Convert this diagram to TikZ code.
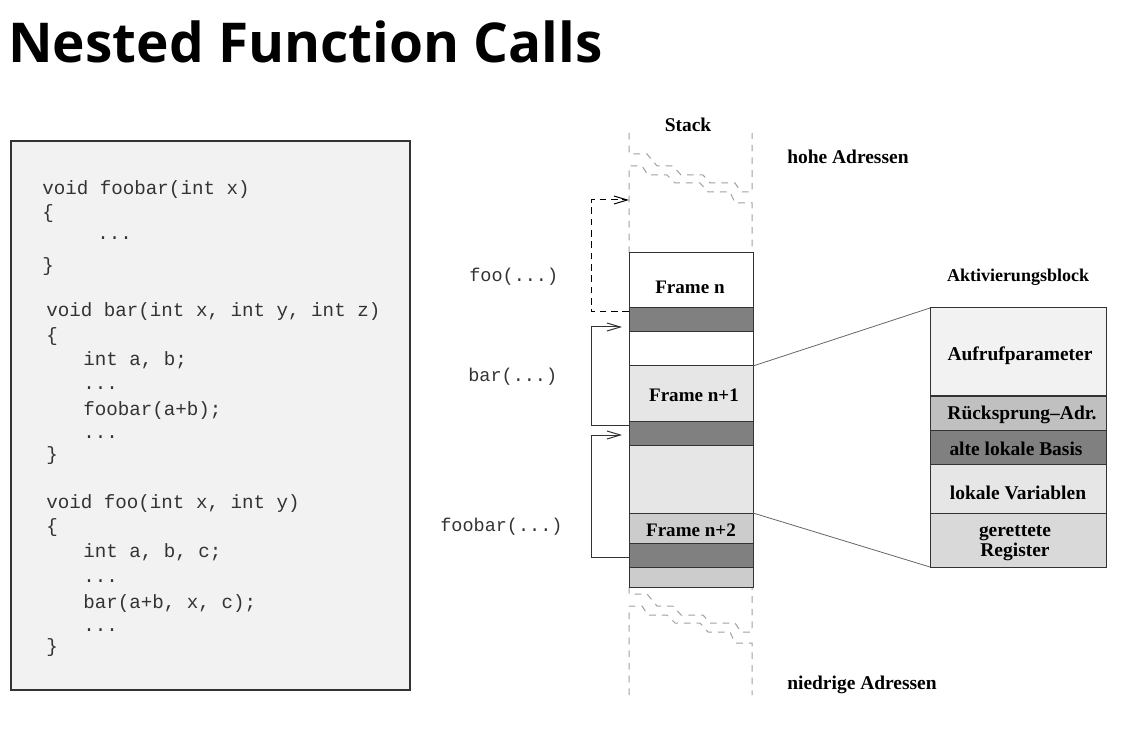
\documentclass[tikz,border=0pt]{standalone}
\usepackage{fontspec}
\setmainfont{Liberation Serif}
\setmonofont{Liberation Mono}
\newfontfamily\titlefont{Open Sans}
\usetikzlibrary{arrows.meta,calc}

\definecolor{codebg}{HTML}{F2F2F2}
\definecolor{edge}{HTML}{333333}
\definecolor{darkband}{HTML}{808080}
\definecolor{lightband}{HTML}{E6E6E6}
\definecolor{midband}{HTML}{CCCCCC}
\definecolor{breakgray}{HTML}{A0A0A0}
\definecolor{codetext}{HTML}{333333}
\definecolor{aufruf}{HTML}{F2F2F2}
\definecolor{ruecksprung}{HTML}{C0C0C0}
\definecolor{gerettet}{HTML}{D9D9D9}

\begin{document}
\begin{tikzpicture}[x=0.75pt,y=-0.75pt,
  codeline/.style={font=\ttfamily\fontsize{14.4}{17}\selectfont, text=codetext, anchor=base west, inner sep=0pt},
  calllabel/.style={font=\ttfamily\fontsize{13.9}{16}\selectfont, text=codetext, anchor=west, inner sep=0pt},
  lbl/.style={font=\bfseries\fontsize{14.6}{17}\selectfont, inner sep=0pt},
  framelbl/.style={font=\bfseries\fontsize{14.3}{17}\selectfont, inner sep=0pt},
  seg/.style={draw=edge, line width=0.75pt, minimum width=93pt, inner sep=0pt, outer sep=0pt, anchor=north west},
  blk/.style={draw=edge, line width=0.75pt, minimum width=132pt, inner sep=0pt, outer sep=0pt, anchor=north west},
  brk/.style={draw=breakgray, line width=0.75pt, dash pattern=on 5pt off 4.5pt},
  callarrow/.style={draw=edge, line width=0.75pt, -{Straight Barb[length=10pt,width=6pt]}},
  zoomline/.style={draw=black!60, line width=0.6pt}
]
\useasboundingbox (0,0) rectangle (1123,730);

% title
\node[anchor=base west, inner sep=0pt, font=\titlefont\bfseries\fontsize{41.2}{50}\selectfont] (title) at (8,63) {Nested Function Calls};

% code box
\node[draw=edge, fill=codebg, line width=0.9pt, minimum width=299.25pt, minimum height=411.75pt, anchor=north west, inner sep=0pt, outer sep=0pt] (codebox) at (11,141) {};
\node[codeline] (c1) at (42,195) {void foobar(int x)};
\node[codeline] (c2) at (42,219) {\{};
\node[codeline] (c3) at (97,240) {...};
\node[codeline] (c4) at (42,272) {\}};
\node[codeline] (c5) at (46,317) {void bar(int x, int y, int z)};
\node[codeline] (c6) at (46,342) {\{};
\node[codeline] (c7) at (83,366) {int a, b;};
\node[codeline] (c8) at (83,389) {...};
\node[codeline] (c9) at (83,415) {foobar(a+b);};
\node[codeline] (c10) at (83,438) {...};
\node[codeline] (c11) at (46,460) {\}};
\node[codeline] (c12) at (46,508) {void foo(int x, int y)};
\node[codeline] (c13) at (46,532) {\{};
\node[codeline] (c14) at (83,557) {int a, b, c;};
\node[codeline] (c15) at (83,582) {...};
\node[codeline] (c16) at (83,608) {bar(a+b, x, c);};
\node[codeline] (c17) at (83,631) {...};
\node[codeline] (c18) at (46,652) {\}};

% stack break lines (top)
\draw[brk] (629,133)--(629,154)--(647,154)--(657,166)--(673,166)--(681,175)--(703,175)--(710,183)--(735,183)--(741,192)--(752,192)--(752,133);
\draw[brk] (629,253)--(629,166)--(642,166)--(648,175)--(667,175)--(675,183)--(700,183)--(708,192)--(730,192)--(735,203)--(752,203)--(752,253);
% stack break lines (bottom)
\begin{scope}[shift={(0,440)}]
\draw[brk] (629,147)--(629,154)--(647,154)--(657,166)--(673,166)--(681,175)--(703,175)--(710,183)--(735,183)--(741,192)--(752,192)--(752,147);
\draw[brk] (629,255)--(629,166)--(642,166)--(648,175)--(667,175)--(675,183)--(700,183)--(708,192)--(730,192)--(735,203)--(752,203)--(752,255);
\end{scope}

% stack segments
\node[seg, fill=white,      minimum height=41.25pt] (s1) at (629,253) {};
\node[seg, fill=darkband,   minimum height=18pt]    (s2) at (629,308) {};
\node[seg, fill=white,      minimum height=25.5pt]  (s3) at (629,332) {};
\node[seg, fill=lightband,  minimum height=41.25pt] (s4) at (629,366) {};
\node[seg, fill=darkband,   minimum height=18pt]    (s5) at (629,421) {};
\node[seg, fill=lightband,  minimum height=51pt]    (s6) at (629,445) {};
\node[seg, fill=midband,    minimum height=22.5pt]  (s7) at (629,513) {};
\node[seg, fill=darkband,   minimum height=18pt]    (s8) at (629,543) {};
\node[seg, fill=midband,    minimum height=15pt]    (s9) at (629,567) {};

\node[framelbl] (fn)  at (690,287) {Frame n};
\node[framelbl] (fn1) at (694,395) {Frame n+1};
\node[framelbl] (fn2) at (691,530) {Frame n+2};

\node[lbl] (stack) at (688,125) {Stack};
\node[lbl, anchor=west] (hohe) at (787,157) {hohe Adressen};
\node[lbl, anchor=west] (niedrig) at (787,685) {niedrige Adressen};

% call labels
\node[calllabel] (lfoo) at (469,277) {foo(...)};
\node[calllabel] (lbar) at (468,377) {bar(...)};
\node[calllabel] (lfoobar) at (440,527) {foobar(...)};

% call arrows
\coordinate (t1) at (629,200);
\coordinate (t2) at (622,327);
\coordinate (t3) at (622,435);
\draw[callarrow, draw=black, dash pattern=on 5pt off 3.5pt] ($(s2.north west)+(0,4)$) -- ++(-38,0) |- (t1);
\draw[callarrow] ($(s5.north west)+(0,4)$) -- ++(-38,0) |- (t2);
\draw[callarrow] ($(s8.north west)+(0,14)$) -- ++(-38,0) |- (t3);

% activation block
\node[lbl, font=\bfseries\fontsize{13.5}{16}\selectfont] (akt) at (1018,277) {Aktivierungsblock};
\node[blk, fill=aufruf,      minimum height=66pt]    (b1) at (930,308) {};
\node[blk, fill=ruecksprung, minimum height=25.5pt]  (b2) at (930,396) {};
\node[blk, fill=darkband,    minimum height=25.5pt]  (b3) at (930,430) {};
\node[blk, fill=lightband,   minimum height=36.75pt] (b4) at (930,464) {};
\node[blk, fill=gerettet,    minimum height=40.5pt]  (b5) at (930,513) {};

\node[lbl] (t-auf) at (1020,356) {Aufrufparameter};
\node[lbl] (t-rue) at (1022,415) {Rücksprung–Adr.};
\node[lbl] (t-alt) at (1016,449) {alte lokale Basis};
\node[lbl] (t-lok) at (1018,493) {lokale Variablen};
\node[lbl, align=center, font=\bfseries\fontsize{14.6}{15}\selectfont] (t-ger) at (1015,543) {gerettete\\Register};

\draw[zoomline] (s4.north east) -- (b1.north west);
\draw[zoomline] (s7.north east) -- (b5.south west);
\end{tikzpicture}
\end{document}
